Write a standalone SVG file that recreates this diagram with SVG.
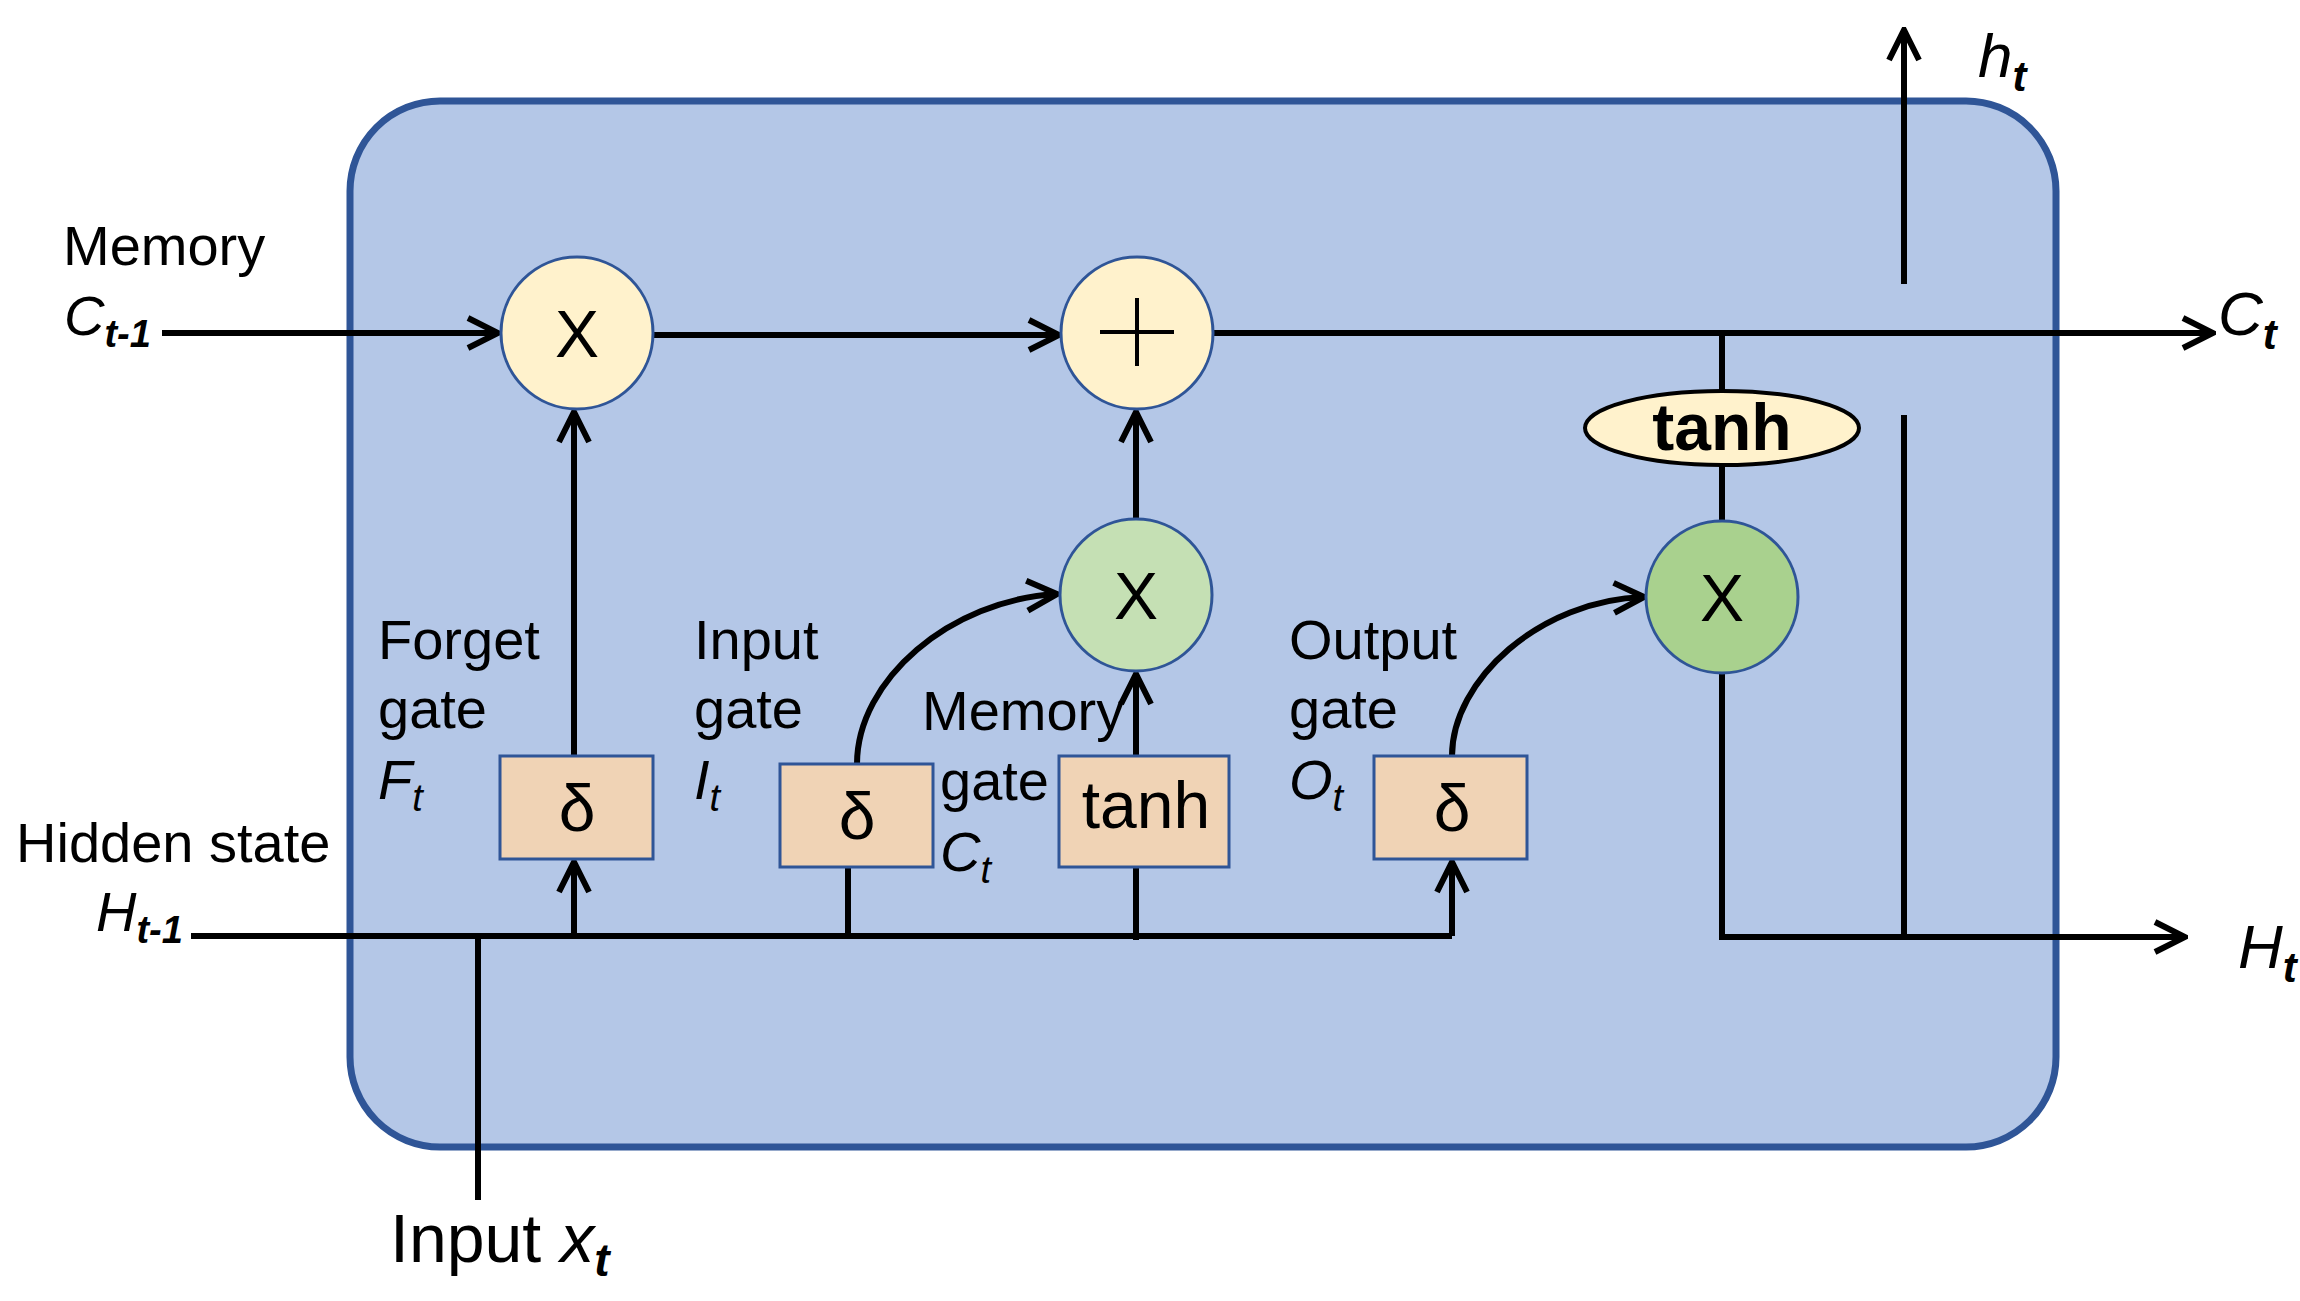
<svg xmlns="http://www.w3.org/2000/svg" width="2300" height="1301" viewBox="0 0 2300 1301">
<defs>
<marker id="ar" viewBox="0 0 12 12" refX="11" refY="6" markerWidth="6" markerHeight="6" orient="auto" markerUnits="strokeWidth"><path d="M1,1 L11,6 L1,11" fill="none" stroke="#000" stroke-width="2" stroke-linejoin="miter"/></marker>
<style>
text{font-family:"Liberation Sans",Arial,sans-serif;fill:#000}
.l{font-size:56px}
.c{font-size:66px;text-anchor:middle}
.ln{stroke:#000;stroke-width:6;fill:none}
.circ{stroke:#2F5597;stroke-width:3}
.box{fill:#F0D3B5;stroke:#2F5597;stroke-width:3}
.i{font-style:italic}
</style>
</defs>
<rect x="350" y="101" width="1706" height="1046" rx="90" ry="90" fill="#B4C7E7" stroke="#2F5597" stroke-width="7"/>
<g id="connectors">
<line class="ln" x1="162" y1="333" x2="498" y2="333" marker-end="url(#ar)"/>
<line class="ln" x1="654" y1="335" x2="1059" y2="335" marker-end="url(#ar)"/>
<line class="ln" x1="1214" y1="333" x2="2213" y2="333" marker-end="url(#ar)"/>
<line class="ln" x1="1904" y1="284" x2="1904" y2="30" marker-end="url(#ar)"/>
<line class="ln" x1="1904" y1="415" x2="1904" y2="937"/>
<line class="ln" x1="191" y1="936" x2="1452" y2="936"/>
<line class="ln" x1="1452" y1="936" x2="1452" y2="862" marker-end="url(#ar)"/>
<line class="ln" x1="574" y1="936" x2="574" y2="862" marker-end="url(#ar)"/>
<line class="ln" x1="574" y1="756" x2="574" y2="412" marker-end="url(#ar)"/>
<line class="ln" x1="478" y1="936" x2="478" y2="1200"/>
<line class="ln" x1="848" y1="867" x2="848" y2="936"/>
<line class="ln" x1="1136" y1="867" x2="1136" y2="940"/>
<line class="ln" x1="1136" y1="756" x2="1136" y2="674" marker-end="url(#ar)"/>
<line class="ln" x1="1136" y1="518" x2="1136" y2="412" marker-end="url(#ar)"/>
<path class="ln" d="M857,764 C857,680 950,600 1057,594" marker-end="url(#ar)"/>
<path class="ln" d="M1452,756 C1452,680 1540,600 1644,597" marker-end="url(#ar)"/>
<line class="ln" x1="1722" y1="333" x2="1722" y2="520"/>
<polyline class="ln" points="1722,674 1722,937 2185,937" marker-end="url(#ar)"/>
</g>
<g id="mult1"><ellipse class="circ" cx="577" cy="333" rx="76" ry="76" fill="#FFF2CC"/><text class="c" x="577" y="357">X</text></g>
<g id="plus"><ellipse class="circ" cx="1137" cy="333" rx="76" ry="76" fill="#FFF2CC"/><line x1="1137" y1="298" x2="1137" y2="366" stroke="#000" stroke-width="4"/><line x1="1100" y1="332" x2="1174" y2="332" stroke="#000" stroke-width="4"/></g>
<g id="mult2"><ellipse class="circ" cx="1136" cy="595" rx="76" ry="76" fill="#C5E0B4"/><text class="c" x="1136" y="619">X</text></g>
<g id="mult3"><ellipse class="circ" cx="1722" cy="597" rx="76" ry="76" fill="#A9D18E"/><text class="c" x="1722" y="621">X</text></g>
<g id="tanh2"><ellipse cx="1722" cy="428" rx="137" ry="37" fill="#FFF2CC" stroke="#000" stroke-width="4"/><text class="c" x="1722" y="450" font-weight="bold" font-size="62">tanh</text></g>
<g id="forget"><rect class="box" x="500" y="756" width="153" height="103"/><text class="c" x="577" y="831">δ</text></g>
<g id="input"><rect class="box" x="780" y="764" width="153" height="103"/><text class="c" x="857" y="839">δ</text></g>
<g id="memgate"><rect class="box" x="1059" y="756" width="170" height="111"/><text class="c" x="1146" y="828">tanh</text></g>
<g id="output"><rect class="box" x="1374" y="756" width="153" height="103"/><text class="c" x="1452" y="831">δ</text></g>
<g id="labels">
<text class="l" x="63" y="265">Memory</text>
<text class="l i" x="64" y="335">C<tspan font-size="38" font-weight="bold" dy="12">t-1</tspan></text>
<text class="l" x="16" y="862">Hidden state</text>
<text class="l i" x="96" y="931">H<tspan font-size="38" font-weight="bold" dy="12">t-1</tspan></text>
<text class="l" x="378" y="659">Forget</text>
<text class="l" x="378" y="728">gate</text>
<text class="l i" x="378" y="799">F<tspan font-size="38" dy="12">t</tspan></text>
<text class="l" x="694" y="659">Input</text>
<text class="l" x="694" y="728">gate</text>
<text class="l i" x="694" y="799">I<tspan font-size="38" dy="12">t</tspan></text>
<text class="l" x="922" y="730">Memory</text>
<text class="l" x="940" y="800">gate</text>
<text class="l i" x="940" y="871">C<tspan font-size="38" dy="12">t</tspan></text>
<text class="l" x="1289" y="659">Output</text>
<text class="l" x="1289" y="728">gate</text>
<text class="l i" x="1289" y="799">O<tspan font-size="38" dy="12">t</tspan></text>
<text class="i" x="1978" y="77" font-size="62">h<tspan font-size="42" font-weight="bold" dy="14">t</tspan></text>
<text class="i" x="2218" y="335" font-size="62">C<tspan font-size="42" font-weight="bold" dy="14">t</tspan></text>
<text class="i" x="2238" y="968" font-size="62">H<tspan font-size="42" font-weight="bold" dy="14">t</tspan></text>
<text x="390" y="1262" font-size="68">Input <tspan font-style="italic">x</tspan><tspan font-style="italic" font-weight="bold" font-size="46" dy="14">t</tspan></text>
</g>
</svg>
